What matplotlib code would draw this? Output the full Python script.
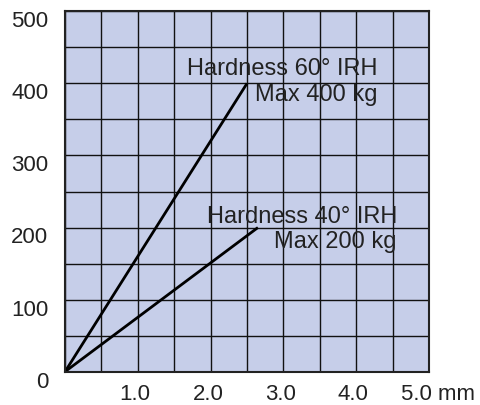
import matplotlib.pyplot as plt
from matplotlib.transforms import ScaledTranslation

# deflection (mm) vs load (kg)
hard60_x = [0, 2.5]
hard60_y = [0, 400]
hard40_x = [0, 2.65]
hard40_y = [0, 200]

xticks = [1, 2, 3, 4, 5]
xlabels = ["1.0", "2.0", "3.0", "4.0", "5.0 mm"]
yticks = [0, 100, 200, 300, 400, 500]
ylabels = ["0", "100", "200", "300", "400", "500"]

plt.rcParams['font.family'] = ['Liberation Sans', 'DejaVu Sans']

fig = plt.figure(figsize=(4.81, 4.06), dpi=100)
ax = fig.add_axes([65/481, 33.3/406, 364/481, 360.4/406])
ax.set_facecolor('#c6cee9')

ax.set_xlim(0, 5)
ax.set_ylim(0, 500)
ax.set_xticks([i * 0.5 for i in range(11)], minor=True)
ax.set_yticks([i * 50 for i in range(11)], minor=True)
ax.grid(which='both', color='#111111', linewidth=1.0)
ax.set_axisbelow(True)

ax.set_xticks(xticks)
ax.set_xticklabels(xlabels, fontsize=16, color='#222222')
ax.set_yticks(yticks)
ax.set_yticklabels(ylabels, fontsize=16, color='#222222')
ax.tick_params(which='both', length=0)
ax.tick_params(axis='x', pad=8)
ax.tick_params(axis='y', pad=12)

for lab in ax.get_yticklabels():
    lab.set_transform(lab.get_transform() + ScaledTranslation(0, -5/72, fig.dpi_scale_trans))
xl = ax.get_xticklabels()
for lab in xl[:4]:
    lab.set_transform(lab.get_transform() + ScaledTranslation(-2/72, 0, fig.dpi_scale_trans))
xl[4].set_transform(xl[4].get_transform() + ScaledTranslation(6.3/72, 0, fig.dpi_scale_trans))

for s in ax.spines.values():
    s.set_color('#222222')
    s.set_linewidth(1.5)

ax.plot(hard60_x, hard60_y, color='black', linewidth=2, solid_capstyle='butt')
ax.plot(hard40_x, hard40_y, color='black', linewidth=2, solid_capstyle='butt')

ax.text(4.29, 421, "Hardness 60° IRH", fontsize=17, ha='right', va='center', color='#222222')
ax.text(4.29, 385, "Max 400 kg", fontsize=17, ha='right', va='center', color='#222222')
ax.text(4.56, 216, "Hardness 40° IRH", fontsize=17, ha='right', va='center', color='#222222')
ax.text(4.56, 181, "Max 200 kg", fontsize=17, ha='right', va='center', color='#222222')

fig.savefig('out.png', dpi=100)
